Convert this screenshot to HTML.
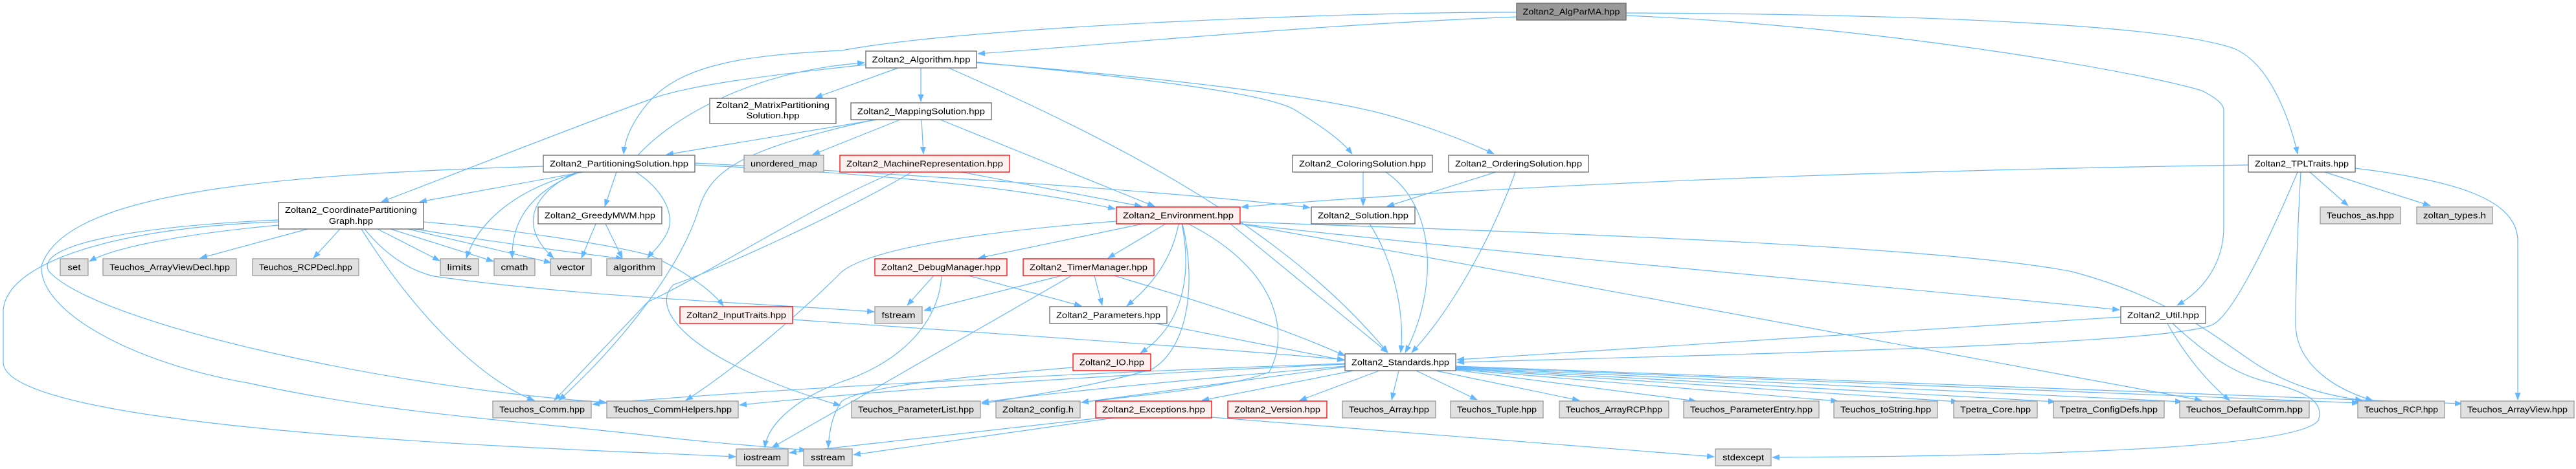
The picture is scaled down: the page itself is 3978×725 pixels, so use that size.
<!DOCTYPE html>
<html><head><meta charset="utf-8"><style>
html,body{margin:0;padding:0;background:#fff;}
svg{display:block;}
text{font-family:"Liberation Sans",sans-serif;font-size:13px;fill:#000;text-anchor:middle;}
.e{fill:none;stroke:#63b8ff;stroke-width:1.2;marker-end:url(#a);}
.w{fill:#fff;stroke:#666;stroke-width:1.3;}
.g{fill:#e0e0e0;stroke:#999;stroke-width:1.3;}
.r{fill:#fff0f0;stroke:#f00;stroke-width:1.3;}
.k{fill:#999;stroke:#666;stroke-width:1.3;}
</style></head><body>
<svg width="3978" height="725" viewBox="0 0 3978 725" xmlns="http://www.w3.org/2000/svg">
<defs><marker id="a" markerWidth="12" markerHeight="9" refX="11" refY="4.5" orient="auto" markerUnits="userSpaceOnUse"><path d="M0,0 L12,4.5 L0,9z" fill="#63b8ff"/></marker></defs>
<g>
<!-- AlgParMA -->
<path class="e" d="M2342,26 C2000,40 1700,70 1510,83"/>
<path class="e" d="M2342,19 C2100,18 1500,40 1300,78 C1150,85 1050,100 1000,160 C975,190 965,215 963,238"/>
<path class="e" d="M2511,20 C3000,22 3350,40 3450,75 C3510,100 3540,200 3548,238"/>
<path class="e" d="M2511,24 C2900,40 3300,110 3400,140 C3430,155 3434,165 3434,170 L3434,350 C3434,410 3400,450 3362,472"/>
<!-- Algorithm -->
<path class="e" d="M1387,105 L1259,151"/>
<path class="e" d="M1422,105 L1422,157"/>
<path class="e" d="M1465,105 C1750,230 1990,360 2143,545"/>
<path class="e" d="M1508,96 C1700,115 1950,140 2000,170 C2040,195 2070,215 2088,238"/>
<path class="e" d="M1508,97 C1800,120 2050,150 2150,180 C2220,200 2280,225 2307,238"/>
<path class="e" d="M1337,100 C1150,120 1050,135 1000,155 C850,210 700,270 589,312"/>
<path class="e" d="M985,240 C1030,190 1150,110 1335,97"/>
<!-- PartitioningSolution -->
<path class="e" d="M900,266 L648,312"/>
<path class="e" d="M952,266 L934,319"/>
<path class="e" d="M898,266 C800,290 740,340 720,399"/>
<path class="e" d="M895,266 C810,300 790,350 791,399"/>
<path class="e" d="M890,266 C820,300 800,350 855,399"/>
<path class="e" d="M982,266 C1020,290 1045,330 1030,360 C1020,380 1005,392 1000,399"/>
<path class="e" d="M839,257 C400,270 100,300 64,411 C60,480 200,560 383,592 C600,640 800,650 1000,673 C1100,685 1180,690 1245,696"/>
<path class="e" d="M1073,255 C1400,270 1600,295 1722,323"/>
<path class="e" d="M1073,252 C1500,275 1850,300 2023,321"/>
<!-- Coordinate -->
<path class="e" d="M430,348 C300,360 180,380 138,404"/>
<path class="e" d="M475,354 L309,399"/>
<path class="e" d="M525,354 L484,399"/>
<path class="e" d="M583,354 L679,403"/>
<path class="e" d="M603,354 L762,404"/>
<path class="e" d="M630,354 L851,406"/>
<path class="e" d="M640,354 C800,380 900,392 962,400"/>
<path class="e" d="M654,343 C800,355 950,380 1005,395 C1060,420 1100,450 1117,473"/>
<path class="e" d="M558,354 C650,500 750,590 825,619"/>
<path class="e" d="M563,354 C600,400 640,420 670,427 C900,460 1200,470 1350,482"/>
<path class="e" d="M430,340 C200,350 50,380 76,420 C150,500 600,600 936,622"/>
<path class="e" d="M430,343 C200,350 10,400 5,480 L5,560 C5,640 500,680 1000,700 L1136,706"/>
<!-- Greedy -->
<path class="e" d="M920,346 L898,399"/>
<path class="e" d="M935,346 L961,399"/>
<!-- Mapping -->
<path class="e" d="M1360,184 L1029,239"/>
<path class="e" d="M1350,185 C1150,230 1100,260 1080,320 C1050,420 950,540 863,619"/>
<path class="e" d="M1390,185 L1255,239"/>
<path class="e" d="M1423,185 L1426,238"/>
<path class="e" d="M1452,185 L1783,319"/>
<!-- MachineRep -->
<path class="e" d="M1485,266 L1763,319"/>
<path class="e" d="M1382,266 C1250,320 1100,420 1000,467 L856,619"/>
<path class="e" d="M1408,266 C1300,330 1100,420 1040,440 C1000,480 1070,560 1298,627"/>
<!-- Environment -->
<path class="e" d="M1765,346 L1511,399"/>
<path class="e" d="M1800,346 L1711,399"/>
<path class="e" d="M1820,346 C1810,400 1780,440 1740,473"/>
<path class="e" d="M1825,346 C1840,420 1830,500 1761,546"/>
<path class="e" d="M1900,346 L2143,545"/>
<path class="e" d="M1915,343 C2400,360 3000,380 3200,420 C3350,460 3420,520 3480,560 C3540,600 3600,612 3648,619"/>
<path class="e" d="M1915,346 C2400,400 3000,450 3273,479"/>
<path class="e" d="M1915,346 C2500,450 3200,580 3400,619"/>
<path class="e" d="M1724,342 C1550,355 1350,380 1300,420 C1250,470 1150,560 1059,619"/>
<path class="e" d="M1826,346 C1850,450 1830,540 1780,570 C1700,595 1600,610 1516,624"/>
<path class="e" d="M1835,346 C1980,420 1990,520 1960,575 C1900,600 1750,612 1670,622"/>
<!-- Solutions -->
<path class="e" d="M2115,346 C2150,400 2170,480 2163,545"/>
<path class="e" d="M2105,266 L2105,318"/>
<path class="e" d="M2140,266 C2220,320 2220,450 2170,545"/>
<path class="e" d="M2310,266 L2142,319"/>
<path class="e" d="M2340,266 C2310,350 2250,470 2180,545"/>
<!-- Debug/Timer/Params/IO/Input -->
<path class="e" d="M1442,426 L1401,472"/>
<path class="e" d="M1495,426 L1670,473"/>
<path class="e" d="M1454,426 C1450,500 1390,560 1300,590 C1220,620 1185,660 1181,692"/>
<path class="e" d="M1640,426 L1427,480"/>
<path class="e" d="M1690,426 L1702,472"/>
<path class="e" d="M1720,426 C1900,480 2000,515 2077,550"/>
<path class="e" d="M1655,426 L1192,692"/>
<path class="e" d="M1785,500 L2076,557"/>
<path class="e" d="M1657,568 C1450,585 1330,600 1300,620 C1285,640 1280,670 1279,692"/>
<path class="e" d="M1224,494 C1600,520 1900,540 2076,556"/>
<!-- Standards -->
<path class="e" d="M2077,562 C1700,575 1200,600 915,625"/>
<path class="e" d="M2077,563 C1700,580 1400,600 1142,626"/>
<path class="e" d="M2077,566 C1800,590 1600,610 1516,622"/>
<path class="e" d="M2077,567 C1900,590 1750,610 1670,622"/>
<path class="e" d="M2090,573 L1856,619"/>
<path class="e" d="M2130,573 L2007,619"/>
<path class="e" d="M2160,573 L2149,618"/>
<path class="e" d="M2187,573 L2281,618"/>
<path class="e" d="M2217,573 L2439,619"/>
<path class="e" d="M2248,572 L2619,620"/>
<path class="e" d="M2248,571 L2838,620"/>
<path class="e" d="M2248,570 L3024,621"/>
<path class="e" d="M2248,569 L3174,621"/>
<path class="e" d="M2248,568 L3370,621"/>
<path class="e" d="M2248,567 L3643,623"/>
<path class="e" d="M2248,566 L3802,624"/>
<!-- Exceptions -->
<path class="e" d="M1871,645 L2647,706"/>
<path class="e" d="M1700,646 L1219,700"/>
<path class="e" d="M1720,646 L1318,703"/>
<!-- Util -->
<path class="e" d="M3275,490 L2250,556"/>
<path class="e" d="M3347,500 C3380,560 3420,600 3443,619"/>
<path class="e" d="M3355,500 C3420,560 3460,580 3500,590 C3560,605 3590,620 3580,650 C3550,690 3200,705 2737,707"/>
<!-- TPLTraits -->
<path class="e" d="M3472,255 C3000,262 2400,280 1917,320"/>
<path class="e" d="M3548,266 C3500,380 3450,480 3420,500 C3380,530 2800,545 2250,560"/>
<path class="e" d="M3553,266 C3548,350 3545,450 3545,500 C3545,560 3600,600 3664,619"/>
<path class="e" d="M3637,260 C3800,280 3885,310 3888,370 L3888,618"/>
<path class="e" d="M3567,266 L3626,318"/>
<path class="e" d="M3590,266 L3753,318"/>
</g>
<g>
<rect class="k" x="2342" y="5" width="169" height="26"/><text x="2426.5" y="22.5" textLength="150" lengthAdjust="spacingAndGlyphs">Zoltan2_AlgParMA.hpp</text>
<rect class="w" x="1337" y="79" width="171" height="26"/><text x="1422.5" y="96.5" textLength="152" lengthAdjust="spacingAndGlyphs">Zoltan2_Algorithm.hpp</text>
<rect class="w" x="1096" y="152" width="195" height="39"/><text x="1193.5" y="167" textLength="175" lengthAdjust="spacingAndGlyphs">Zoltan2_MatrixPartitioning</text><text x="1193.5" y="183" textLength="82" lengthAdjust="spacingAndGlyphs">Solution.hpp</text>
<rect class="w" x="1314" y="159" width="217" height="26"/><text x="1422.5" y="176.5" textLength="197" lengthAdjust="spacingAndGlyphs">Zoltan2_MappingSolution.hpp</text>
<rect class="w" x="839" y="240" width="234" height="26"/><text x="956" y="257.5" textLength="214" lengthAdjust="spacingAndGlyphs">Zoltan2_PartitioningSolution.hpp</text>
<rect class="g" x="1149" y="240" width="123" height="26"/><text x="1210.5" y="257.5" textLength="103" lengthAdjust="spacingAndGlyphs">unordered_map</text>
<rect class="r" x="1297" y="240" width="262" height="26"/><text x="1428" y="257.5" textLength="242" lengthAdjust="spacingAndGlyphs">Zoltan2_MachineRepresentation.hpp</text>
<rect class="w" x="1996" y="240" width="216" height="26"/><text x="2104" y="257.5" textLength="196" lengthAdjust="spacingAndGlyphs">Zoltan2_ColoringSolution.hpp</text>
<rect class="w" x="2237" y="240" width="216" height="26"/><text x="2345" y="257.5" textLength="196" lengthAdjust="spacingAndGlyphs">Zoltan2_OrderingSolution.hpp</text>
<rect class="w" x="3472" y="240" width="165" height="26"/><text x="3554.5" y="257.5" textLength="145" lengthAdjust="spacingAndGlyphs">Zoltan2_TPLTraits.hpp</text>
<rect class="w" x="430" y="313" width="224" height="41"/><text x="542" y="329" textLength="204" lengthAdjust="spacingAndGlyphs">Zoltan2_CoordinatePartitioning</text><text x="542" y="346" textLength="68" lengthAdjust="spacingAndGlyphs">Graph.hpp</text>
<rect class="w" x="831" y="320" width="191" height="26"/><text x="926.5" y="337.5" textLength="171" lengthAdjust="spacingAndGlyphs">Zoltan2_GreedyMWM.hpp</text>
<rect class="r" x="1724" y="320" width="191" height="26"/><text x="1819.5" y="337.5" textLength="171" lengthAdjust="spacingAndGlyphs">Zoltan2_Environment.hpp</text>
<rect class="w" x="2025" y="320" width="160" height="26"/><text x="2105" y="337.5" textLength="140" lengthAdjust="spacingAndGlyphs">Zoltan2_Solution.hpp</text>
<rect class="g" x="3583" y="320" width="124" height="26"/><text x="3645" y="337.5" textLength="104" lengthAdjust="spacingAndGlyphs">Teuchos_as.hpp</text>
<rect class="g" x="3732" y="320" width="117" height="26"/><text x="3790.5" y="337.5" textLength="97" lengthAdjust="spacingAndGlyphs">zoltan_types.h</text>
<rect class="g" x="93" y="400" width="43" height="26"/><text x="114.5" y="417.5" textLength="20" lengthAdjust="spacingAndGlyphs">set</text>
<rect class="g" x="159" y="400" width="206" height="26"/><text x="262" y="417.5" textLength="186" lengthAdjust="spacingAndGlyphs">Teuchos_ArrayViewDecl.hpp</text>
<rect class="g" x="390" y="400" width="164" height="26"/><text x="472" y="417.5" textLength="144" lengthAdjust="spacingAndGlyphs">Teuchos_RCPDecl.hpp</text>
<rect class="g" x="680" y="400" width="59" height="26"/><text x="709.5" y="417.5" textLength="38" lengthAdjust="spacingAndGlyphs">limits</text>
<rect class="g" x="763" y="400" width="63" height="26"/><text x="794.5" y="417.5" textLength="42" lengthAdjust="spacingAndGlyphs">cmath</text>
<rect class="g" x="850" y="400" width="63" height="26"/><text x="881.5" y="417.5" textLength="43" lengthAdjust="spacingAndGlyphs">vector</text>
<rect class="g" x="937" y="400" width="85" height="26"/><text x="979.5" y="417.5" textLength="65" lengthAdjust="spacingAndGlyphs">algorithm</text>
<rect class="r" x="1351" y="400" width="204" height="26"/><text x="1453" y="417.5" textLength="184" lengthAdjust="spacingAndGlyphs">Zoltan2_DebugManager.hpp</text>
<rect class="r" x="1580" y="400" width="202" height="26"/><text x="1681" y="417.5" textLength="182" lengthAdjust="spacingAndGlyphs">Zoltan2_TimerManager.hpp</text>
<rect class="r" x="1050" y="474" width="174" height="26"/><text x="1137" y="491.5" textLength="154" lengthAdjust="spacingAndGlyphs">Zoltan2_InputTraits.hpp</text>
<rect class="g" x="1351" y="474" width="73" height="26"/><text x="1387.5" y="491.5" textLength="52" lengthAdjust="spacingAndGlyphs">fstream</text>
<rect class="w" x="1621" y="474" width="181" height="26"/><text x="1711.5" y="491.5" textLength="161" lengthAdjust="spacingAndGlyphs">Zoltan2_Parameters.hpp</text>
<rect class="w" x="3275" y="474" width="131" height="26"/><text x="3340.5" y="491.5" textLength="111" lengthAdjust="spacingAndGlyphs">Zoltan2_Util.hpp</text>
<rect class="r" x="1657" y="547" width="120" height="26"/><text x="1717" y="564.5" textLength="100" lengthAdjust="spacingAndGlyphs">Zoltan2_IO.hpp</text>
<rect class="w" x="2077" y="547" width="171" height="26"/><text x="2162.5" y="564.5" textLength="151" lengthAdjust="spacingAndGlyphs">Zoltan2_Standards.hpp</text>
<rect class="g" x="761" y="620" width="152" height="26"/><text x="837" y="637.5" textLength="132" lengthAdjust="spacingAndGlyphs">Teuchos_Comm.hpp</text>
<rect class="g" x="937" y="620" width="203" height="26"/><text x="1038.5" y="637.5" textLength="183" lengthAdjust="spacingAndGlyphs">Teuchos_CommHelpers.hpp</text>
<rect class="g" x="1315" y="620" width="199" height="26"/><text x="1414.5" y="637.5" textLength="179" lengthAdjust="spacingAndGlyphs">Teuchos_ParameterList.hpp</text>
<rect class="g" x="1538" y="620" width="130" height="26"/><text x="1603" y="637.5" textLength="110" lengthAdjust="spacingAndGlyphs">Zoltan2_config.h</text>
<rect class="r" x="1692" y="620" width="179" height="26"/><text x="1781.5" y="637.5" textLength="159" lengthAdjust="spacingAndGlyphs">Zoltan2_Exceptions.hpp</text>
<rect class="r" x="1896" y="620" width="153" height="26"/><text x="1972.5" y="637.5" textLength="133" lengthAdjust="spacingAndGlyphs">Zoltan2_Version.hpp</text>
<rect class="g" x="2073" y="620" width="144" height="26"/><text x="2145" y="637.5" textLength="124" lengthAdjust="spacingAndGlyphs">Teuchos_Array.hpp</text>
<rect class="g" x="2240" y="620" width="143" height="26"/><text x="2311.5" y="637.5" textLength="123" lengthAdjust="spacingAndGlyphs">Teuchos_Tuple.hpp</text>
<rect class="g" x="2408" y="620" width="169" height="26"/><text x="2492.5" y="637.5" textLength="149" lengthAdjust="spacingAndGlyphs">Teuchos_ArrayRCP.hpp</text>
<rect class="g" x="2600" y="620" width="209" height="26"/><text x="2704.5" y="637.5" textLength="189" lengthAdjust="spacingAndGlyphs">Teuchos_ParameterEntry.hpp</text>
<rect class="g" x="2832" y="620" width="160" height="26"/><text x="2912" y="637.5" textLength="140" lengthAdjust="spacingAndGlyphs">Teuchos_toString.hpp</text>
<rect class="g" x="3017" y="620" width="129" height="26"/><text x="3081.5" y="637.5" textLength="109" lengthAdjust="spacingAndGlyphs">Tpetra_Core.hpp</text>
<rect class="g" x="3171" y="620" width="171" height="26"/><text x="3256.5" y="637.5" textLength="151" lengthAdjust="spacingAndGlyphs">Tpetra_ConfigDefs.hpp</text>
<rect class="g" x="3366" y="620" width="200" height="26"/><text x="3466" y="637.5" textLength="180" lengthAdjust="spacingAndGlyphs">Teuchos_DefaultComm.hpp</text>
<rect class="g" x="3641" y="620" width="134" height="26"/><text x="3708" y="637.5" textLength="114" lengthAdjust="spacingAndGlyphs">Teuchos_RCP.hpp</text>
<rect class="g" x="3800" y="620" width="175" height="26"/><text x="3887.5" y="637.5" textLength="155" lengthAdjust="spacingAndGlyphs">Teuchos_ArrayView.hpp</text>
<rect class="g" x="1137" y="694" width="80" height="26"/><text x="1177" y="711.5" textLength="58" lengthAdjust="spacingAndGlyphs">iostream</text>
<rect class="g" x="1241" y="694" width="75" height="26"/><text x="1278.5" y="711.5" textLength="53" lengthAdjust="spacingAndGlyphs">sstream</text>
<rect class="g" x="2649" y="694" width="86" height="26"/><text x="2692" y="711.5" textLength="64" lengthAdjust="spacingAndGlyphs">stdexcept</text>
</g>
</svg>
</body></html>
